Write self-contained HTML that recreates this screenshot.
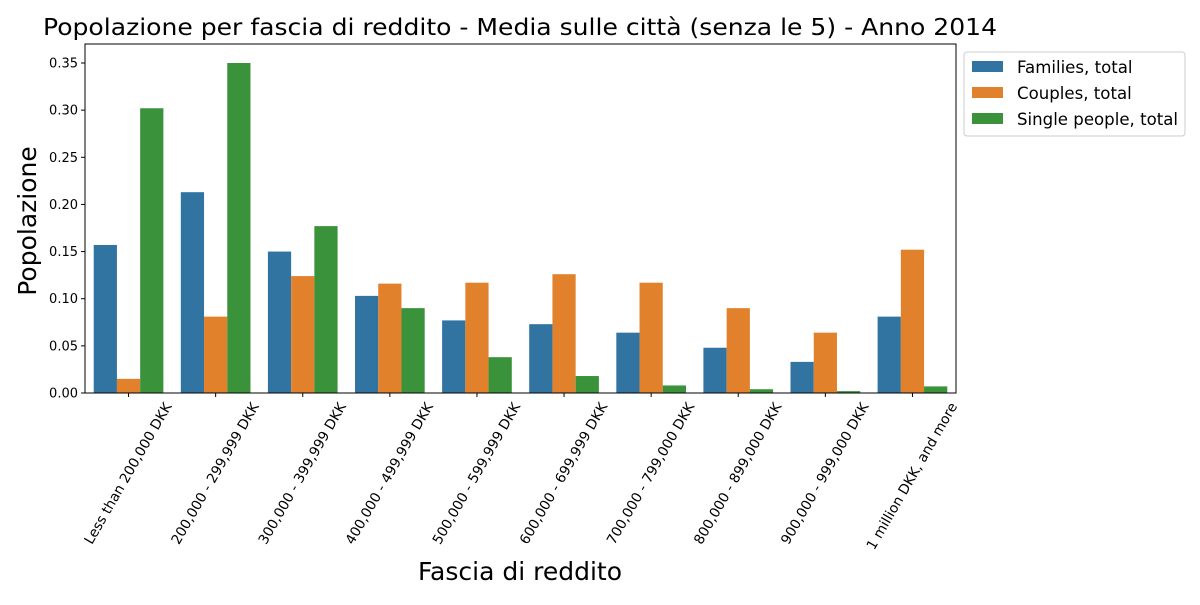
<!DOCTYPE html>
<html><head><meta charset="utf-8"><style>
body{margin:0;background:#fff;}
svg{font-family:"DejaVu Sans","Liberation Sans",sans-serif;}
</style></head><body>
<svg id="c" width="1200" height="600" xmlns="http://www.w3.org/2000/svg"></svg>
<script>
const categories=["Less than 200,000 DKK","200,000 - 299,999 DKK","300,000 - 399,999 DKK","400,000 - 499,999 DKK","500,000 - 599,999 DKK","600,000 - 699,999 DKK","700,000 - 799,000 DKK","800,000 - 899,000 DKK","900,000 - 999,000 DKK","1 million DKK, and more"];
const families=[0.157,0.213,0.150,0.103,0.077,0.073,0.064,0.048,0.033,0.081];
const couples=[0.015,0.081,0.124,0.116,0.117,0.126,0.117,0.090,0.064,0.152];
const singles=[0.302,0.350,0.177,0.090,0.038,0.018,0.008,0.004,0.002,0.007];
const seriesNames=["Families, total","Couples, total","Single people, total"];
const yTicks=[0,0.05,0.10,0.15,0.20,0.25,0.30,0.35];

const NS="http://www.w3.org/2000/svg";
const svg=document.getElementById('c');
const L=85,R=956,T=44,B=393;
const colors=["#3274a1","#e1812c","#3a923a"];
const series=[families,couples,singles];
function y(v){return B-v/0.35*(B-63);}
const bw=(R-L)/categories.length;
function x(i){return L+bw*(i+0.5);}
function mk(tag,attrs,parent){const e=document.createElementNS(NS,tag);for(const k in attrs)e.setAttribute(k,attrs[k]);(parent||svg).appendChild(e);return e;}

const title=mk('text',{x:520,y:35,'text-anchor':'middle','font-size':23,fill:'#000',textLength:954,lengthAdjust:'spacingAndGlyphs'});
title.textContent="Popolazione per fascia di reddito - Media sulle città (senza le 5) - Anno 2014";



const barW=bw*0.8/3;
series.forEach((s,si)=>{
  s.forEach((v,i)=>{
    const bx=x(i)-bw*0.4+si*barW;
    const r=mk('rect',{x:bx,y:y(v),width:barW,height:B-y(v),fill:colors[si]});
    
    
  });
});

const frame=mk('rect',{x:L,y:T,width:R-L,height:B-T,fill:'none',stroke:'#000','stroke-width':1});



yTicks.forEach(t=>{
  mk('line',{x1:L-4,x2:L,y1:y(t),y2:y(t),stroke:'#000'});
  const tx=mk('text',{x:L-7,y:y(t)+4.5,'text-anchor':'end','font-size':13});
  tx.textContent=t.toFixed(2);
  
  
});

categories.forEach((c,i)=>{
  mk('line',{x1:x(i),x2:x(i),y1:B,y2:B+4,stroke:'#000'});
  const tx=mk('text',{'text-anchor':'middle','dominant-baseline':'central','font-size':13.8});
  tx.textContent=c;
  
  
  const len=tx.getComputedTextLength();
  const cy=400+(len*Math.sin(Math.PI/3)+16*0.5)/2;
  tx.setAttribute('x',x(i));tx.setAttribute('y',cy);
  tx.setAttribute('transform','rotate(-60 '+x(i)+' '+cy+')');
});

const xl=mk('text',{x:520,y:580,'text-anchor':'middle','font-size':25});
xl.textContent="Fascia di reddito";


const yl=mk('text',{x:36,y:221,'text-anchor':'middle','font-size':25,transform:'rotate(-90 36 221)'});
yl.textContent="Popolazione";



const lg=mk('g',{});


mk('rect',{x:964,y:52,width:221,height:84,rx:3,fill:'#fff',stroke:'#ccc'},lg);
seriesNames.forEach((n,i)=>{
  const g=mk('g',{},lg);
  
  
  mk('rect',{x:972,y:61+i*26,width:31,height:11,fill:colors[i]},g);
  const t=mk('text',{x:1017,y:73+i*26,'font-size':16.6},g);
  t.textContent=n;
});
</script>
</body></html>
